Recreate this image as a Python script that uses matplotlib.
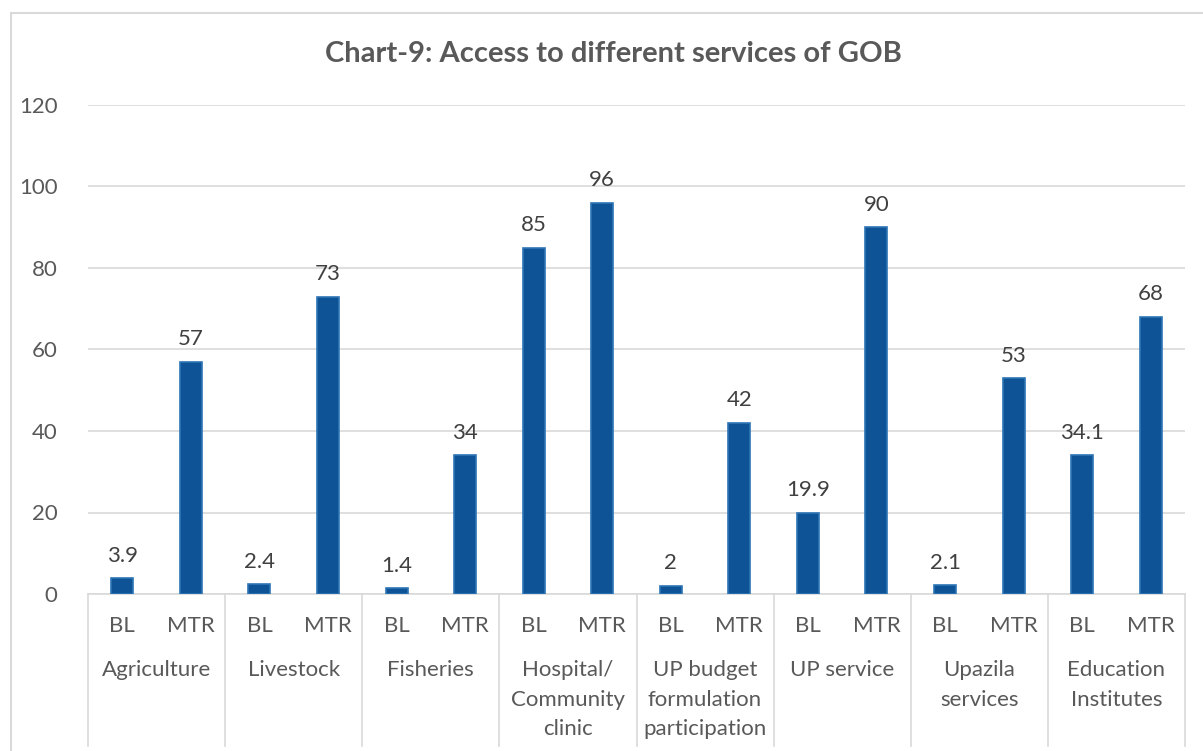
import numpy as np
import matplotlib.pyplot as plt
from matplotlib.lines import Line2D
from matplotlib.transforms import blended_transform_factory

plt.rcParams['font.family'] = ['Lato', 'DejaVu Sans']

categories = ['Agriculture', 'Livestock', 'Fisheries', 'Hospital/\nCommunity\nclinic',
              'UP budget\nformulation\nparticipation', 'UP service', 'Upazila\nservices',
              'Education\nInstitutes']
rounds = ['BL', 'MTR']
bl_values = [3.9, 2.4, 1.4, 85, 2, 19.9, 2.1, 34.1]
mtr_values = [57, 73, 34, 96, 42, 90, 53, 68]
bl_labels = ['3.9', '2.4', '1.4', '85', '2', '19.9', '2.1', '34.1']
mtr_labels = ['57', '73', '34', '96', '42', '90', '53', '68']

W, H = 1203, 751
fig = plt.figure(figsize=(W / 100, H / 100), dpi=100)
ax = fig.add_axes([88 / W, 1 - 594 / H, (1185 - 88) / W, (594 - 105) / H])

bar_color = '#0E5396'
edge_color = '#2E75B6'
grid_color = '#D9D9D9'
text_color = '#595959'
fs = 16

# interleave BL / MTR into one row of 16 slots
values = []
labels = []
for b, m, bl, ml in zip(bl_values, mtr_values, bl_labels, mtr_labels):
    values += [b, m]
    labels += [bl, ml]
x = np.arange(len(values))

bars = ax.bar(x, values, width=0.32, color=bar_color, edgecolor=edge_color,
              linewidth=1.2, zorder=3)
for rect, lab in zip(bars, labels):
    ax.annotate(lab, (rect.get_x() + rect.get_width() / 2, rect.get_height()),
                xytext=(0, 9), textcoords='offset points', ha='center', va='bottom',
                fontsize=fs, color='#404040')

ax.set_xlim(-0.5, len(values) - 0.5)
ax.set_ylim(0, 120)
ax.set_yticks(range(0, 121, 20))
ax.yaxis.grid(True, color=grid_color, linewidth=1.2)
ax.set_axisbelow(True)
ax.tick_params(axis='y', length=0, pad=22, labelsize=fs, labelcolor=text_color)
ax.set_xticks([])
for side in ['left', 'right', 'top']:
    ax.spines[side].set_visible(False)
ax.spines['bottom'].set_color(grid_color)
ax.spines['bottom'].set_linewidth(1.2)

# two-level category axis
trans = blended_transform_factory(ax.transData, fig.transFigure)
def fy(px):
    return 1 - px / H

for i in range(len(values)):
    ax.text(i, fy(626), rounds[i % 2], transform=trans, ha='center', va='center',
            fontsize=fs, color=text_color)
for g, name in enumerate(categories):
    for k, line in enumerate(name.split('\n')):
        ax.text(2 * g + 0.5, fy(670 + 29.5 * k), line, transform=trans,
                ha='center', va='center', fontsize=fs, color=text_color)
for g in range(len(categories) + 1):
    xs = 2 * g - 0.5
    ax.add_line(Line2D([xs, xs], [fy(594), fy(746)], transform=trans,
                       color=grid_color, linewidth=1.2, clip_on=False))

fig.text(613 / W, fy(54), 'Chart-9: Access to different services of GOB',
         ha='center', va='center', fontsize=21, fontweight='bold', color=text_color)

# chart area border
fig.add_artist(Line2D([11 / W, 11 / W], [0, fy(13)], transform=fig.transFigure,
                      color=grid_color, linewidth=1.5))
fig.add_artist(Line2D([11 / W, 1], [fy(13), fy(13)], transform=fig.transFigure,
                      color=grid_color, linewidth=1.5))

fig.savefig('out.png', dpi=100)
